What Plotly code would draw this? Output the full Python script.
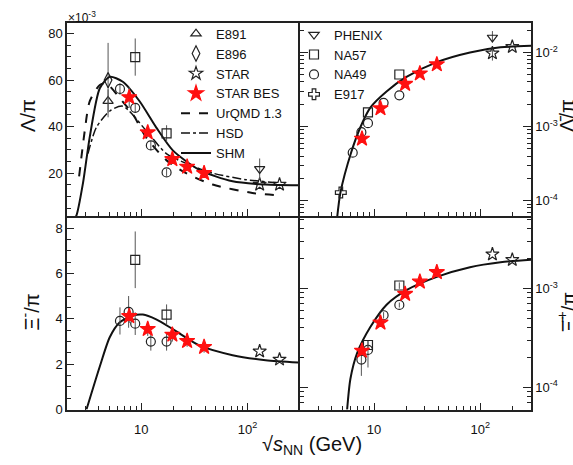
import plotly.graph_objects as go

# ---------------- data ----------------
# Lambda / pi  (x 10^-3)
lam_e891_x, lam_e891_y, lam_e891_err = [4.87], [51.0], [5.0]
lam_e896_x, lam_e896_y, lam_e896_err = [4.87], [60.0], [16.0]
lam_na49_x = [6.3, 8.77, 12.3, 17.3]
lam_na49_y = [56.2, 48.1, 31.9, 20.3]
lam_na49_err = [2.5, 2.0, 2.0, 1.5]
lam_na57_x, lam_na57_y, lam_na57_err = [8.77, 17.3], [69.9, 37.1], [8.0, 3.5]
lam_bes_x = [7.7, 11.5, 19.6, 27.0, 39.0]
lam_bes_y = [52.6, 37.5, 26.0, 22.7, 20.0]
lam_bes_err = [4.5, 2.0, 1.2, 1.0, 1.0]
lam_star_x, lam_star_y = [130, 200], [15.1, 15.1]
lam_phenix_x, lam_phenix_y, lam_phenix_err = [130], [21.8], [4.5]

lam_shm_x = [2.3, 2.45, 2.83, 3.27, 4.07, 5.05, 6.7, 9.64, 13.8, 19.8, 35.2, 72.3, 148, 300]
lam_shm_y = [0.0, 1.7, 15.8, 35.4, 56.5, 61.4, 59.3, 50.9, 39.7, 29.8, 21.4, 16.5, 15.1, 14.8]
lam_urqmd_x = [2.6, 2.94, 3.27, 4.07, 4.7, 6.26, 8.34, 11.1, 17.2, 26.4, 46.9, 111, 200]
lam_urqmd_y = [18.6, 38.3, 50.9, 57.9, 58.6, 52.3, 45.3, 35.4, 25.6, 20.0, 15.1, 11.5, 10.4]
lam_hsd_x = [3.15, 3.78, 5.05, 6.7, 11.1, 17.2, 26.4, 46.9, 96.5, 200]
lam_hsd_y = [28.4, 39.7, 46.7, 48.8, 38.3, 28.4, 24.2, 20.0, 17.2, 15.8]

# anti-Lambda / pi
alam_e917_x, alam_e917_y = [4.87], [1.29e-4]
alam_na49_x = [6.3, 7.6, 8.77, 12.3, 17.3]
alam_na49_y = [4.45e-4, 8.4e-4, 1.11e-3, 2.09e-3, 2.64e-3]
alam_na57_x, alam_na57_y = [8.77, 17.3], [1.55e-3, 5.04e-3]
alam_bes_x = [7.7, 11.5, 19.6, 27.0, 39.0]
alam_bes_y = [6.86e-4, 1.76e-3, 3.76e-3, 5.2e-3, 6.9e-3]
alam_phenix_x, alam_phenix_y = [130], [0.0159]
alam_phenix_up, alam_phenix_dn = [0.0035], [0.0022]
alam_star_x, alam_star_y, alam_star_err = [130, 200], [9.76e-3, 0.0119], [0.002, 0.0]

alam_shm_x = [4.5, 4.83, 6.1, 7.44, 9.23, 13.2, 20.4, 39, 80, 155, 300]
alam_shm_y = [6.0e-5, 1.29e-4, 4.5e-4, 9.8e-4, 1.8e-3, 3.0e-3, 4.7e-3, 7.4e-3, 1.0e-2, 1.17e-2, 1.23e-2]

# Xi- / pi  (x 10^-3)
xi_na49_x = [6.3, 7.6, 8.77, 12.3, 17.3]
xi_na49_y = [3.91, 4.31, 3.79, 3.0, 3.0]
xi_na49_err = [0.6, 0.7, 0.5, 0.4, 0.4]
xi_na57_x, xi_na57_y, xi_na57_err = [8.77, 17.3], [6.61, 4.19], [1.25, 0.45]
xi_bes_x = [7.7, 11.5, 19.6, 27.0, 39.0]
xi_bes_y = [4.12, 3.55, 3.30, 3.02, 2.76]
xi_bes_err = [0.3, 0.3, 0.3, 0.25, 0.25]
xi_star_x, xi_star_y = [130, 200], [2.57, 2.21]

xi_shm_x = [3.05, 4.07, 5.05, 6.25, 8.34, 10.35, 13.8, 19.8, 35.2, 72.3, 148, 300]
xi_shm_y = [0.0, 1.90, 3.19, 3.84, 4.15, 4.19, 3.98, 3.55, 2.83, 2.40, 2.18, 2.08]

# anti-Xi+ / pi
axi_na49_x = [7.6, 8.77, 12.3, 17.3]
axi_na49_y = [1.9e-4, 2.38e-4, 5.35e-4, 6.8e-4]
axi_na49_up = [0.77e-4, 0.6e-4, 0.4e-4, 0.4e-4]
axi_na49_dn = [0.6e-4, 0.8e-4, 0.4e-4, 0.4e-4]
axi_na57_x, axi_na57_y, axi_na57_err = [8.77, 17.3], [2.67e-4, 1.07e-3], [0.3e-4, 0.8e-4]
axi_bes_x = [7.7, 11.5, 19.6, 27.0, 39.0]
axi_bes_y = [2.33e-4, 4.5e-4, 8.8e-4, 1.17e-3, 1.46e-3]
axi_star_x, axi_star_y = [130, 200], [2.22e-3, 1.95e-3]

axi_shm_x = [5.58, 5.99, 6.93, 9.23, 13.2, 20.4, 39, 80, 155, 300]
axi_shm_y = [5.9e-5, 1.21e-4, 2.21e-4, 4.06e-4, 6.88e-4, 9.67e-4, 1.31e-3, 1.64e-3, 1.84e-3, 1.95e-3]

# ---------------- styling ----------------
W, H = 573, 465
FONT = "Liberation Sans, Arial, sans-serif"
INK = "#222"
ERR = "#555"

STYLES = {
    "E891": dict(symbol="triangle-up-open", size=9, color=INK),
    "E896": dict(symbol="diamond-tall-open", size=11, color=INK),
    "STAR": dict(symbol="star-open", size=10, color=INK),
    "STAR BES": dict(symbol="star", size=11.5, color="#ff1010"),
    "PHENIX": dict(symbol="triangle-down-open", size=9, color=INK),
    "NA57": dict(symbol="square-open", size=9, color=INK),
    "NA49": dict(symbol="circle-open", size=9, color=INK),
    "E917": dict(symbol="cross-open", size=9, color=INK),
}

fig = go.Figure()


def points(name, x, y, xa, ya, err=None, err_up=None, err_dn=None, legend=None):
    st = STYLES[name]
    ey = None
    if err is not None:
        ey = dict(type="data", array=err, visible=True, color=ERR, thickness=1, width=0)
    elif err_up is not None:
        ey = dict(type="data", array=err_up, arrayminus=err_dn, symmetric=False,
                  visible=True, color=ERR, thickness=1, width=0)
    fig.add_trace(go.Scatter(
        x=x, y=y, mode="markers", name=name, xaxis=xa, yaxis=ya,
        marker=dict(symbol=st["symbol"], size=st["size"], color=st["color"],
                    line=dict(color=st["color"], width=1.2)),
        error_y=ey, showlegend=legend is not None, legend=legend or "legend",
    ))


def curve(name, x, y, xa, ya, dash="solid", width=2.0, legend=None):
    fig.add_trace(go.Scatter(
        x=x, y=y, mode="lines", name=name, xaxis=xa, yaxis=ya,
        line=dict(color="#111", width=width, dash=dash, shape="spline", smoothing=0.7),
        showlegend=legend is not None, legend=legend or "legend",
    ))


# top-left: Lambda/pi
points("E891", lam_e891_x, lam_e891_y, "x", "y", err=lam_e891_err, legend="legend")
points("E896", lam_e896_x, lam_e896_y, "x", "y", err=lam_e896_err, legend="legend")
points("STAR", lam_star_x, lam_star_y, "x", "y", legend="legend")
curve("UrQMD 1.3", lam_urqmd_x, lam_urqmd_y, "x", "y", dash="dash", legend="legend")
curve("HSD", lam_hsd_x, lam_hsd_y, "x", "y", dash="dashdot", width=1.5, legend="legend")
curve("SHM", lam_shm_x, lam_shm_y, "x", "y", legend="legend")
points("NA49", lam_na49_x, lam_na49_y, "x", "y", err=lam_na49_err)
points("NA57", lam_na57_x, lam_na57_y, "x", "y", err=lam_na57_err)
points("PHENIX", lam_phenix_x, lam_phenix_y, "x", "y", err=lam_phenix_err)
points("STAR BES", lam_bes_x, lam_bes_y, "x", "y", err=lam_bes_err, legend="legend")

# top-right: anti-Lambda/pi
curve("SHM", alam_shm_x, alam_shm_y, "x3", "y3")
points("PHENIX", alam_phenix_x, alam_phenix_y, "x3", "y3",
       err_up=alam_phenix_up, err_dn=alam_phenix_dn, legend="legend2")
points("NA57", alam_na57_x, alam_na57_y, "x3", "y3", legend="legend2")
points("NA49", alam_na49_x, alam_na49_y, "x3", "y3", legend="legend2")
points("E917", alam_e917_x, alam_e917_y, "x3", "y3", legend="legend2")
points("STAR", alam_star_x, alam_star_y, "x3", "y3", err=alam_star_err)
points("STAR BES", alam_bes_x, alam_bes_y, "x3", "y3")

# bottom-left: Xi-/pi
curve("SHM", xi_shm_x, xi_shm_y, "x2", "y2")
points("NA49", xi_na49_x, xi_na49_y, "x2", "y2", err=xi_na49_err)
points("NA57", xi_na57_x, xi_na57_y, "x2", "y2", err=xi_na57_err)
points("STAR", xi_star_x, xi_star_y, "x2", "y2")
points("STAR BES", xi_bes_x, xi_bes_y, "x2", "y2", err=xi_bes_err)

# bottom-right: anti-Xi+/pi
curve("SHM", axi_shm_x, axi_shm_y, "x4", "y4")
points("NA49", axi_na49_x, axi_na49_y, "x4", "y4", err_up=axi_na49_up, err_dn=axi_na49_dn)
points("NA57", axi_na57_x, axi_na57_y, "x4", "y4", err=axi_na57_err)
points("STAR", axi_star_x, axi_star_y, "x4", "y4")
points("STAR BES", axi_bes_x, axi_bes_y, "x4", "y4")

# legend ordering
order1 = ["E891", "E896", "STAR", "STAR BES", "UrQMD 1.3", "HSD", "SHM"]
order2 = ["PHENIX", "NA57", "NA49", "E917"]
for tr in fig.data:
    if tr.showlegend:
        order = order1 if tr.legend == "legend" else order2
        tr.legendrank = order.index(tr.name) + 1


def px(x):
    return x / W


def py(y):
    return 1 - y / H


LW = 1.5
# frame lines are drawn half a line width outside each plot area; the panel
# domains leave exactly one line width between neighbours so shared edges coincide
XL = (67, 299 - LW / 2)
XR = (299 + LW / 2, 531)
YT = (23.3, 220.7 - LW / 2)
YB = (220.7 + LW / 2, 416.7)

minor_x = [3, 4, 5, 6, 7, 8, 9, 20, 30, 40, 50, 60, 70, 80, 90, 200]
xrange_log = [0.301, 2.4771]

line_style = dict(showline=True, linecolor=INK, linewidth=LW,
                  showgrid=False, zeroline=False)
tickfont = dict(family=FONT, size=13, color="#111")


def xaxis(domain, anchor, labels):
    return dict(type="log", domain=[px(domain[0]), px(domain[1])], anchor=anchor,
                range=xrange_log, tickmode="array", tickvals=[10, 100],
                ticktext=["10", "10<sup>2</sup>"], showticklabels=labels,
                ticks="inside", ticklen=7, tickwidth=1, tickcolor=INK,
                ticklabelstandoff=7, mirror=True,
                minor=dict(tickmode="array", tickvals=minor_x, ticks="inside",
                           ticklen=4, tickwidth=1, tickcolor=INK, showgrid=False),
                tickfont=tickfont, **line_style)


def log_minor(lo, hi):
    vals = []
    for e in range(lo, hi + 1):
        for m in range(2, 10):
            vals.append(m * 10 ** e)
    return vals


fig.update_layout(
    width=W, height=H, margin=dict(l=0, r=0, t=0, b=0),
    paper_bgcolor="white", plot_bgcolor="white",
    font=dict(family=FONT, size=13, color="#111"),
    xaxis=xaxis(XL, "y", False),
    xaxis2=xaxis(XL, "y2", True),
    xaxis3=xaxis(XR, "y3", False),
    xaxis4=xaxis(XR, "y4", True),
    yaxis=dict(domain=[py(YT[1]), py(YT[0])], anchor="x", range=[1.5, 84.6],
               tickmode="array", tickvals=[20, 40, 60, 80], mirror=True,
               ticks="inside", ticklen=7, tickwidth=1, tickcolor=INK,
               minor=dict(dtick=5, tick0=0, ticks="inside", ticklen=4, tickwidth=1,
                          tickcolor=INK, showgrid=False),
               tickfont=tickfont, **line_style),
    yaxis2=dict(domain=[py(YB[1]), py(YB[0])], anchor="x2", range=[0, 8.47],
                tickmode="array", tickvals=[0, 2, 4, 6, 8], mirror=True,
                ticks="inside", ticklen=7, tickwidth=1, tickcolor=INK,
                minor=dict(dtick=0.5, tick0=0, ticks="inside", ticklen=4, tickwidth=1,
                           tickcolor=INK, showgrid=False),
                tickfont=tickfont, **line_style),
    yaxis3=dict(type="log", domain=[py(YT[1]), py(YT[0])], anchor="x3", side="right",
                range=[-4.208, -1.602], tickmode="array", mirror="ticks",
                tickvals=[1e-4, 1e-3, 1e-2],
                ticktext=["10<sup>-4</sup>", "10<sup>-3</sup>", "10<sup>-2</sup>"],
                ticks="inside", ticklen=8, tickwidth=1, tickcolor=INK,
                minor=dict(tickmode="array", tickvals=log_minor(-5, -2), ticks="inside",
                           ticklen=4, tickwidth=1, tickcolor=INK, showgrid=False),
                tickfont=tickfont, **line_style),
    yaxis4=dict(type="log", domain=[py(YB[1]), py(YB[0])], anchor="x4", side="right",
                range=[-4.227, -2.283], tickmode="array", mirror="ticks",
                tickvals=[1e-4, 1e-3],
                ticktext=["10<sup>-4</sup>", "10<sup>-3</sup>"],
                ticks="inside", ticklen=8, tickwidth=1, tickcolor=INK,
                minor=dict(tickmode="array", tickvals=log_minor(-5, -3), ticks="inside",
                           ticklen=4, tickwidth=1, tickcolor=INK, showgrid=False),
                tickfont=tickfont, **line_style),
    legend=dict(x=px(176), y=py(19), xanchor="left", yanchor="top",
                bgcolor="rgba(0,0,0,0)", font=dict(family=FONT, size=13, color="#111"),
                itemsizing="trace", traceorder="normal"),
    legend2=dict(x=px(294), y=py(20), xanchor="left", yanchor="top",
                 bgcolor="rgba(0,0,0,0)", font=dict(family=FONT, size=13, color="#111"),
                 itemsizing="trace", traceorder="normal"),
)

title_font = dict(family=FONT, size=20, color="#111")
ann = [
    # y-axis titles
    dict(text="Λ/π", x=px(28), y=py(118), textangle=-90, font=title_font),
    dict(text="Ξ<sup>-</sup>/π", x=px(30), y=py(318), textangle=-90, font=title_font),
    dict(text="Λ\u0304/π", x=px(567), y=py(118), textangle=-90, font=title_font),
    dict(text="Ξ\u0304<sup>+</sup>/π", x=px(567), y=py(318), textangle=-90, font=title_font),
    # x-axis title
    dict(text="√<i>s</i><sub>NN</sub> (GeV)", x=px(312), y=py(453),
         font=dict(family=FONT, size=20, color="#111")),
    # multiplier of the linear Lambda axis
    dict(text="×10<sup>-3</sup>", x=px(82), y=py(17),
         font=dict(family=FONT, size=12, color="#111")),
]
for a in ann:
    a.update(xref="paper", yref="paper", xanchor="center", yanchor="middle", showarrow=False)
fig.update_layout(annotations=ann)

fig.write_html("out.html")
